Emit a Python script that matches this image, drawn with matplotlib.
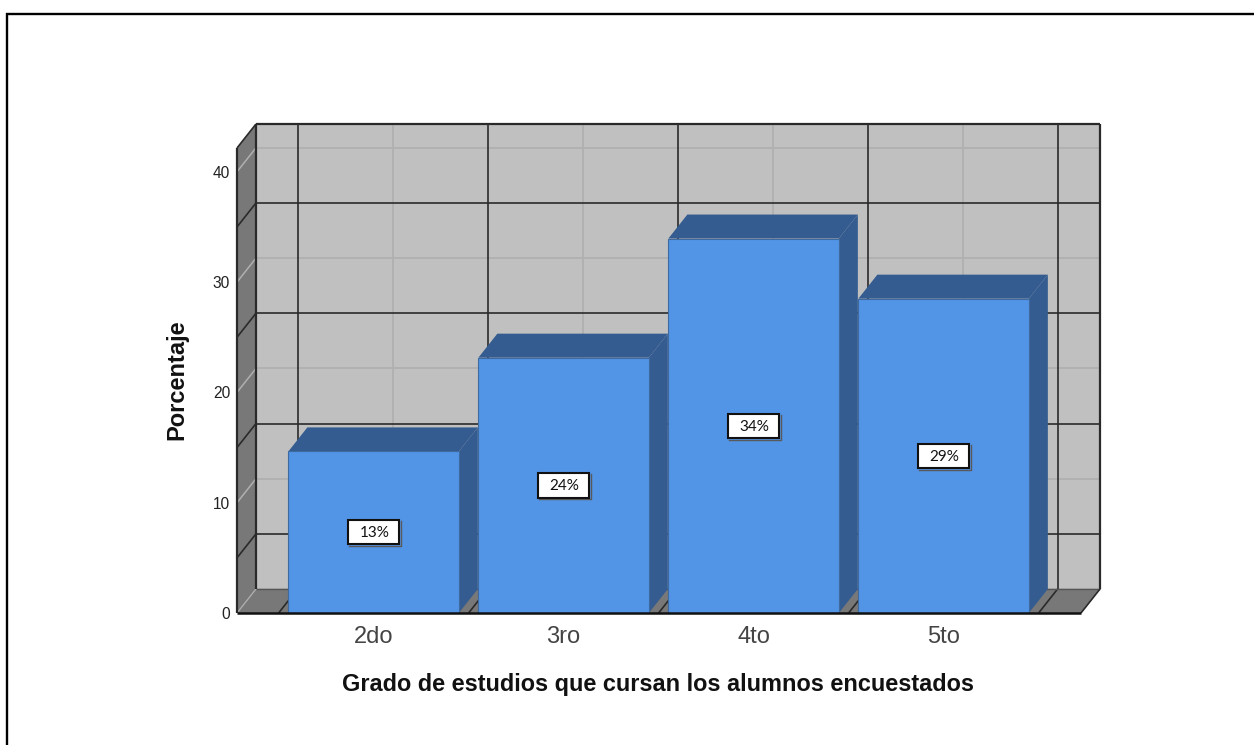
import matplotlib
matplotlib.use("Agg")
import matplotlib.pyplot as plt
from matplotlib.patches import Polygon, Rectangle
from matplotlib.lines import Line2D

categories = ["2do", "3ro", "4to", "5to"]
values = [14.65, 23.15, 33.95, 28.5]
bar_labels = ["13%", "24%", "34%", "29%"]
major_ticks = [0, 10, 20, 30, 40]
minor_lines = [5, 15, 25, 35]

W, H = 1254, 745
PX_X = 190
PX_Y = 11.03
CX = 373.6
DEPTH_X = 19 / PX_X
DEPTH_Y = 24 / PX_Y
TOP = (613 - 124 - 24) / PX_Y
BAR_W = 170.5 / PX_X
X0, X1 = (237 - CX) / PX_X, (1081 - CX) / PX_X
BOX_W, BOX_H = 51 / PX_X, 24.5 / PX_Y

WALL = "#c0c0c0"
SIDE = "#787878"
DARK = "#2a2a2a"
LIGHT = "#b0b0b0"
BLUE = "#5294e6"
SHADE = "#345c90"
EDGE = "#3f6a9f"

fig = plt.figure(figsize=(W / 100, H / 100), dpi=100, facecolor="white")
ax = fig.add_axes([237 / W, (H - 613) / H, (1100 - 237) / W, (613 - 124) / H])
ax.set_xlim(X0, X0 + (1100 - 237) / PX_X)
ax.set_ylim(0, TOP + DEPTH_Y)
ax.patch.set_visible(False)
for s in ax.spines.values():
    s.set_visible(False)


def poly(pts, fc, ec="none", lw=0.0, z=1):
    ax.add_patch(Polygon(pts, closed=True, facecolor=fc, edgecolor=ec, linewidth=lw,
                         zorder=z, clip_on=False, joinstyle="miter"))


def line(xs, ys, c, lw, z=2):
    ax.plot(xs, ys, color=c, linewidth=lw, zorder=z, clip_on=False, solid_capstyle="butt")


bx0, bx1 = X0 + DEPTH_X, X1 + DEPTH_X
# back wall, floor, left wall
poly([(bx0, DEPTH_Y), (bx1, DEPTH_Y), (bx1, TOP + DEPTH_Y), (bx0, TOP + DEPTH_Y)], WALL, z=1)
poly([(X0, 0), (X1, 0), (bx1, DEPTH_Y), (bx0, DEPTH_Y)], SIDE, z=1)
poly([(X0, 0), (bx0, DEPTH_Y), (bx0, TOP + DEPTH_Y), (X0, TOP)], SIDE, z=1)

# horizontal grid on back wall and left wall
for v in major_ticks:
    line([bx0, bx1], [v + DEPTH_Y] * 2, LIGHT, 1.3)
    if v > 0:
        line([X0, bx0], [v, v + DEPTH_Y], LIGHT, 1.1)
for v in minor_lines:
    line([bx0, bx1], [v + DEPTH_Y] * 2, DARK, 1.2, z=3)
    line([X0, bx0], [v, v + DEPTH_Y], DARK, 1.2, z=3)
line([X0, bx0], [0, DEPTH_Y], LIGHT, 0.9)

# vertical grid on back wall and floor
for i in range(len(categories)):
    xc = i + DEPTH_X
    line([xc, xc], [DEPTH_Y, TOP + DEPTH_Y], LIGHT, 1.3)
for i in range(len(categories) + 1):
    xb = i - 0.5
    line([xb + DEPTH_X] * 2, [DEPTH_Y, TOP + DEPTH_Y], DARK, 1.2, z=3)
    line([xb, xb + DEPTH_X], [0, DEPTH_Y], DARK, 1.2, z=3)

# outline of the box
line([bx0, bx1], [TOP + DEPTH_Y] * 2, DARK, 1.6, z=3)
line([bx0, bx0], [DEPTH_Y, TOP + DEPTH_Y], DARK, 1.6, z=3)
line([bx1, bx1], [DEPTH_Y, TOP + DEPTH_Y], DARK, 1.6, z=3)
line([X0, X0], [0, TOP], DARK, 1.6, z=3)
line([X0, bx0], [TOP, TOP + DEPTH_Y], DARK, 1.2, z=3)
line([bx0, bx1], [DEPTH_Y, DEPTH_Y], "#555555", 1.0, z=3)
line([X1, bx1], [0, DEPTH_Y], DARK, 1.2, z=3)

# bars
for i, v in enumerate(values):
    l, r = i - BAR_W / 2, i + BAR_W / 2
    z = 5 + i
    poly([(r, 0), (r + DEPTH_X, DEPTH_Y), (r + DEPTH_X, v + DEPTH_Y), (r, v)], SHADE, z=z)
    poly([(l, v), (r, v), (r + DEPTH_X, v + DEPTH_Y), (l + DEPTH_X, v + DEPTH_Y)], SHADE, z=z)
ax.bar(range(len(values)), values, width=BAR_W, color=BLUE, edgecolor=EDGE, linewidth=0.8,
       zorder=9, clip_on=False)
line([X0, X1], [0, 0], "#111111", 1.8, z=10)

# value boxes
for i, (v, t) in enumerate(zip(values, bar_labels)):
    ax.add_patch(Rectangle((i - BOX_W / 2, v / 2 - BOX_H / 2), BOX_W, BOX_H, facecolor="white",
                           edgecolor="#111111", linewidth=1.5, zorder=12, clip_on=False))
    ax.plot([i - BOX_W / 2 + 0.006, i + BOX_W / 2 + 0.008, i + BOX_W / 2 + 0.008],
            [v / 2 - BOX_H / 2 - 0.16, v / 2 - BOX_H / 2 - 0.16, v / 2 + BOX_H / 2 - 0.1],
            color="#5a5a5a", linewidth=1.0, zorder=11, clip_on=False)
    ax.annotate(t, (i, v / 2), ha="center", va="center", fontsize=11, color="#111111",
                family="Lato", zorder=13, xytext=(1, -1), textcoords="offset pixels",
                annotation_clip=False)

ax.set_yticks(major_ticks)
ax.tick_params(axis="y", length=0, pad=5, labelsize=11.2, labelcolor="#222222")
ax.set_xticks(range(len(categories)))
ax.set_xticklabels(categories, fontsize=17, color="#444444")
ax.tick_params(axis="x", length=0, pad=9.5)
for lab in ax.get_xticklabels() + ax.get_yticklabels():
    lab.set_family("Liberation Sans")

fig.text(658 / W, 1 - 684 / H, "Grado de estudios que cursan los alumnos encuestados",
         ha="center", va="center", fontsize=16.95, fontweight="bold", family="Liberation Sans",
         color="#111111")
fig.text(177 / W, 1 - 380 / H, "Porcentaje", ha="center", va="center", rotation=90,
         fontsize=17, fontweight="bold", family="Liberation Sans", color="#111111")

# outer frame: left and top edges only
fig.add_artist(Line2D([6.5 / W, 6.5 / W], [0, 1 - 13 / H], color="black", linewidth=1.7,
                      solid_capstyle="butt"))
fig.add_artist(Line2D([5.8 / W, 1], [1 - 13.5 / H] * 2, color="black", linewidth=1.7,
                      solid_capstyle="butt"))

fig.savefig("out.png", dpi=100, facecolor="white")
